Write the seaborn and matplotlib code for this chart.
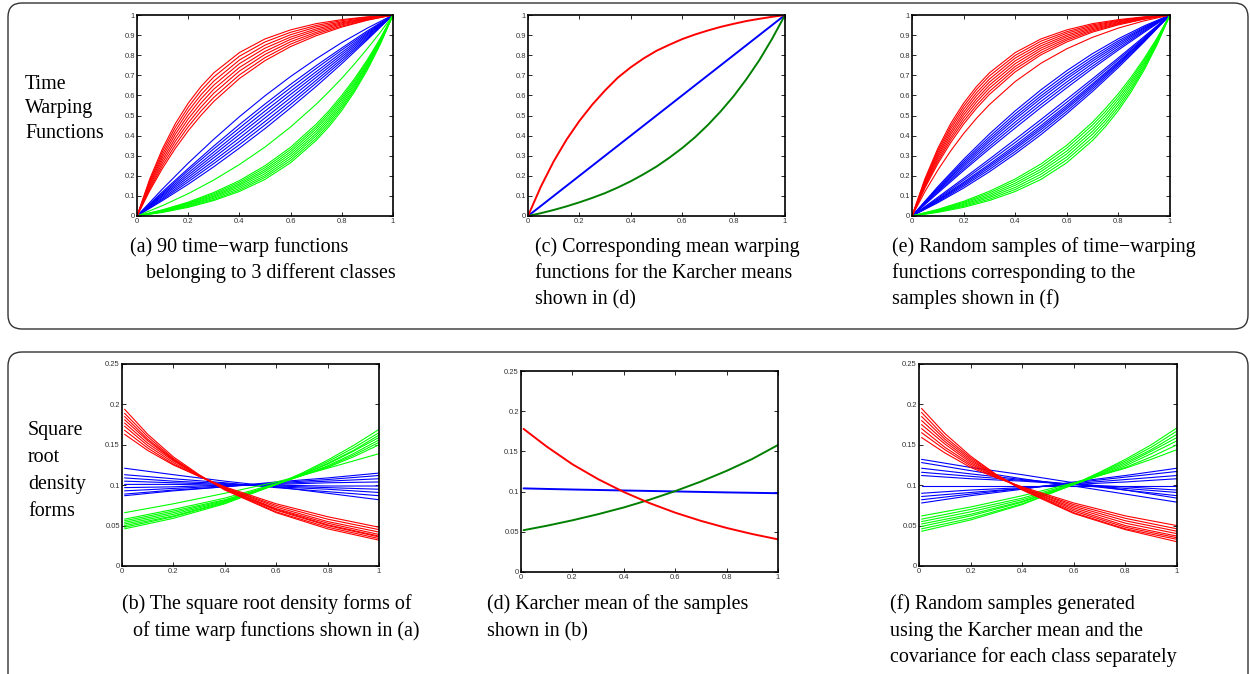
import pandas as pd
import matplotlib.pyplot as plt
import seaborn as sns
from matplotlib.patches import FancyBboxPatch

sns.set_theme(style="ticks")
plt.rcParams["font.family"] = ["Liberation Sans", "DejaVu Sans"]
plt.rcParams["text.color"] = "black"

# x grids (finer where the curves bend most)
t_grid = [0, 0.1, 0.2, 0.3, 0.4, 0.5, 0.6, 0.7, 0.8, 0.9, 1.0]
t_grid_red = [0, 0.05, 0.1, 0.15, 0.2, 0.25, 0.3, 0.4, 0.5, 0.6, 0.7, 0.8, 0.9, 1.0]
t_grid_green = [0, 0.1, 0.2, 0.3, 0.4, 0.5, 0.6, 0.7, 0.75, 0.8, 0.85, 0.9, 0.95, 1.0]
t_grid_fine = [0, .05, .1, .15, .2, .25, .3, .35, .4, .45, .5,
               .55, .6, .65, .7, .75, .8, .85, .9, .95, 1]
s_grid = [0.01, 0.2, 0.4, 0.6, 0.8, 1.0]
s_grid_red = [0.01, 0.1, 0.2, 0.3, 0.4, 0.6, 0.8, 1.0]
s_grid_green = [0.01, 0.2, 0.4, 0.6, 0.7, 0.8, 0.9, 1.0]
s_grid_fine = [0.01, 0.1, 0.2, 0.3, 0.4, 0.5, 0.6, 0.7, 0.8, 0.9, 1.0]

x_ticks = [0, 0.2, 0.4, 0.6, 0.8, 1]
x_labels = ["0", "0.2", "0.4", "0.6", "0.8", "1"]
warp_ticks = [0, 0.1, 0.2, 0.3, 0.4, 0.5, 0.6, 0.7, 0.8, 0.9, 1]
warp_labels = ["0", "0.1", "0.2", "0.3", "0.4", "0.5", "0.6", "0.7", "0.8", "0.9", "1"]
srd_ticks = [0, 0.05, 0.1, 0.15, 0.2, 0.25]
srd_labels = ["0", "0.05", "0.1", "0.15", "0.2", "0.25"]

# (a) 90 time-warp functions
red_a = [
    [0, .126, .238, .337, .424, .501, .570, .684, .773, .843, .897, .940, .974, 1],
    [0, .134, .252, .354, .444, .522, .590, .702, .788, .855, .906, .945, .976, 1],
    [0, .143, .266, .372, .463, .542, .611, .721, .804, .867, .914, .951, .979, 1],
    [0, .151, .280, .389, .483, .562, .631, .739, .819, .879, .923, .956, .981, 1],
    [0, .160, .294, .407, .502, .583, .651, .758, .835, .890, .931, .961, .984, 1],
    [0, .168, .308, .424, .522, .603, .671, .776, .850, .902, .940, .966, .986, 1],
    [0, .176, .322, .442, .541, .624, .692, .795, .866, .914, .948, .972, .989, 1],
    [0, .185, .336, .460, .561, .644, .712, .813, .881, .926, .957, .977, .991, 1],
]
blue_a = [
    [0, .135, .263, .382, .494, .598, .694, .782, .863, .935, 1],
    [0, .121, .236, .348, .455, .557, .655, .748, .836, .921, 1],
    [0, .114, .226, .334, .438, .540, .638, .734, .826, .914, 1],
    [0, .108, .214, .318, .421, .522, .621, .718, .814, .908, 1],
    [0, .102, .203, .304, .405, .505, .605, .704, .803, .902, 1],
    [0, .096, .192, .290, .388, .488, .588, .690, .792, .896, 1],
    [0, .089, .181, .275, .371, .470, .571, .675, .781, .889, 1],
    [0, .083, .170, .261, .355, .453, .555, .661, .770, .883, 1],
    [0, .077, .158, .245, .338, .435, .538, .645, .758, .877, 1],
]
green_a = [
    [0, .018, .043, .077, .122, .182, .265, .376, .445, .525, .619, .727, .853, 1],
    [0, .020, .047, .082, .129, .192, .276, .387, .456, .536, .628, .735, .857, 1],
    [0, .022, .051, .088, .137, .201, .287, .399, .468, .546, .637, .742, .862, 1],
    [0, .024, .054, .094, .145, .211, .298, .410, .479, .557, .647, .749, .866, 1],
    [0, .025, .058, .099, .153, .221, .309, .422, .490, .568, .656, .756, .870, 1],
    [0, .027, .062, .105, .160, .230, .320, .434, .502, .579, .665, .763, .874, 1],
    [0, .029, .065, .111, .168, .240, .331, .445, .513, .589, .675, .771, .879, 1],
    [0, .031, .069, .117, .176, .250, .342, .457, .524, .600, .684, .778, .883, 1],
    [0, .052, .111, .179, .256, .343, .443, .556, .619, .685, .757, .833, .913, 1],
]

# (c) mean warping functions
mean_red_c = [0, .146, .272, .380, .473, .554, .625, .689, .740, .784, .822,
              .852, .880, .903, .923, .941, .956, .970, .981, .991, 1]
mean_blue_c = [0, .1, .2, .3, .4, .5, .6, .7, .8, .9, 1]
mean_green_c = [0, .014, .030, .048, .068, .090, .114, .142, .173, .208, .246,
                .290, .338, .392, .453, .521, .596, .681, .775, .882, 1]

# (e) random samples of warping functions
red_e = [
    [0, .139, .260, .365, .457, .536, .605, .717, .802, .866, .915, .951, .979, 1],
    [0, .146, .271, .379, .472, .551, .620, .731, .813, .875, .921, .955, .981, 1],
    [0, .152, .282, .392, .487, .567, .636, .744, .825, .883, .927, .958, .982, 1],
    [0, .159, .293, .406, .502, .582, .651, .758, .836, .892, .933, .962, .984, 1],
    [0, .165, .303, .419, .516, .598, .666, .772, .847, .900, .939, .966, .986, 1],
    [0, .172, .314, .433, .531, .613, .681, .786, .858, .909, .945, .970, .988, 1],
    [0, .178, .325, .446, .546, .629, .697, .799, .870, .917, .951, .973, .989, 1],
    [0, .185, .336, .460, .561, .644, .712, .813, .881, .926, .957, .977, .991, 1],
    [0, .121, .228, .324, .410, .486, .554, .669, .760, .832, .889, .935, .971, 1],
]
blue_e = [
    [0, .146, .282, .408, .523, .628, .723, .808, .882, .946, 1],
    [0, .140, .272, .394, .508, .612, .708, .794, .872, .940, 1],
    [0, .135, .263, .382, .494, .598, .694, .782, .863, .935, 1],
    [0, .131, .254, .371, .482, .585, .682, .771, .854, .931, 1],
    [0, .125, .245, .359, .467, .570, .667, .759, .845, .925, 1],
    [0, .120, .235, .346, .453, .555, .653, .746, .835, .920, 1],
    [0, .114, .226, .334, .438, .540, .638, .734, .826, .914, 1],
    [0, .093, .187, .283, .381, .480, .581, .683, .787, .893, 1],
    [0, .087, .178, .271, .366, .465, .566, .671, .778, .887, 1],
    [0, .082, .168, .258, .352, .450, .552, .658, .768, .882, 1],
    [0, .078, .162, .250, .342, .440, .542, .650, .762, .878, 1],
    [0, .075, .155, .241, .333, .430, .533, .641, .755, .875, 1],
    [0, .070, .148, .231, .321, .418, .521, .631, .748, .870, 1],
    [0, .066, .139, .220, .309, .405, .509, .620, .739, .866, 1],
]
green_e = [
    [0, .018, .043, .077, .122, .182, .265, .376, .445, .525, .619, .727, .853, 1],
    [0, .021, .048, .084, .132, .195, .280, .391, .460, .539, .631, .737, .859, 1],
    [0, .023, .053, .092, .142, .208, .294, .407, .475, .553, .643, .746, .864, 1],
    [0, .025, .058, .099, .153, .221, .309, .422, .490, .567, .656, .756, .870, 1],
    [0, .028, .063, .107, .163, .233, .323, .437, .505, .581, .668, .765, .875, 1],
    [0, .030, .068, .115, .174, .246, .338, .453, .520, .595, .680, .775, .881, 1],
    [0, .033, .073, .123, .184, .259, .352, .467, .535, .609, .692, .784, .886, 1],
]

# (b) square root density forms
red_b = [
    [.194, .163, .135, .113, .094, .066, .046, .032],
    [.189, .160, .133, .112, .095, .067, .048, .034],
    [.185, .157, .132, .112, .095, .069, .050, .036],
    [.181, .155, .131, .112, .096, .070, .051, .037],
    [.177, .152, .130, .112, .096, .071, .053, .039],
    [.173, .149, .128, .111, .097, .073, .055, .042],
    [.168, .146, .126, .111, .097, .075, .058, .045],
    [.163, .143, .125, .111, .098, .077, .061, .048],
]
blue_b = [
    [.121, .113, .105, .098, .090, .082],
    [.113, .108, .103, .097, .092, .087],
    [.109, .105, .102, .098, .095, .091],
    [.105, .103, .101, .099, .097, .095],
    [.101, .101, .100, .100, .099, .099],
    [.097, .098, .100, .101, .103, .104],
    [.093, .096, .099, .102, .105, .108],
    [.089, .094, .098, .103, .107, .112],
    [.087, .093, .098, .104, .109, .115],
]
green_b = [
    [.046, .059, .077, .101, .115, .131, .149, .169],
    [.048, .061, .078, .101, .114, .129, .146, .165],
    [.050, .062, .079, .101, .113, .127, .143, .162],
    [.052, .064, .080, .101, .113, .126, .142, .159],
    [.054, .066, .081, .101, .112, .124, .139, .156],
    [.056, .068, .082, .101, .112, .123, .137, .153],
    [.058, .070, .084, .102, .112, .122, .135, .150],
    [.066, .077, .090, .104, .112, .121, .130, .139],
]

# (d) Karcher means
mean_red_d = [.178, .156, .134, .1155, .0995, .0857, .0738, .0636, .0548, .0472, .0406]
mean_blue_d = [.104, .1033, .1026, .102, .1014, .1008, .1002, .0996, .099, .0985, .098]
mean_green_d = [.052, .0575, .0643, .0719, .0803, .0899, .1006, .1125, .1258, .1406, .158]

# (f) random samples of square root density forms
red_f = [
    [.195, .164, .136, .113, .094, .065, .045, .030],
    [.190, .160, .134, .113, .095, .066, .046, .033],
    [.185, .157, .132, .112, .095, .068, .048, .035],
    [.180, .154, .130, .112, .096, .070, .050, .037],
    [.175, .151, .128, .111, .096, .072, .053, .040],
    [.170, .147, .126, .111, .097, .074, .056, .043],
    [.165, .144, .124, .110, .097, .076, .059, .046],
    [.159, .140, .122, .109, .098, .078, .062, .050],
]
blue_f = [
    [.132, .122, .113, .103, .094, .084],
    [.128, .118, .108, .099, .089, .079],
    [.121, .114, .107, .101, .094, .087],
    [.116, .111, .106, .101, .096, .091],
    [.112, .108, .105, .101, .098, .094],
    [.099, .099, .099, .099, .099, .099],
    [.090, .094, .097, .101, .104, .108],
    [.086, .091, .096, .102, .107, .112],
    [.082, .089, .096, .103, .110, .117],
    [.078, .087, .095, .104, .112, .121],
]
green_f = [
    [.043, .057, .076, .101, .116, .132, .150, .171],
    [.046, .059, .077, .101, .115, .130, .147, .167],
    [.049, .062, .079, .101, .114, .128, .144, .163],
    [.052, .064, .080, .101, .113, .126, .142, .159],
    [.055, .067, .082, .101, .112, .124, .139, .155],
    [.058, .070, .084, .102, .112, .122, .135, .150],
    [.062, .073, .087, .103, .112, .121, .132, .144],
]

bright = {"blue": "#0000ff", "green": "#00ff00", "red": "#ff0000"}
means = {"blue": "#0000ff", "green": "#008000", "red": "#ff0000"}
order = ["blue", "green", "red"]

W, H = 1250, 674
fig = plt.figure(figsize=(W / 100, H / 100), dpi=100)


def long_table(groups):
    rows = []
    for cls, (grid, curves) in groups.items():
        for k, ys in enumerate(curves):
            for x, y in zip(grid, ys):
                rows.append((cls, cls + str(k), x, y))
    return pd.DataFrame(rows, columns=["cls", "curve", "x", "y"])


def panel(px, groups, palette, lw, yticks, ylabels):
    # px = left, top, right, bottom in pixels
    l, t, r, b = px
    ax = fig.add_axes([l / W, 1 - b / H, (r - l) / W, (b - t) / H])
    df = long_table(groups)
    sns.lineplot(data=df, x="x", y="y", hue="cls", units="curve", estimator=None,
                 hue_order=order, palette=palette, linewidth=lw, legend=False,
                 sort=False, ax=ax)
    ax.set_xlim(0, 1)
    ax.set_ylim(yticks[0], yticks[-1])
    ax.set_xticks(x_ticks)
    ax.set_xticklabels(x_labels)
    ax.set_yticks(yticks)
    ax.set_yticklabels(ylabels)
    ax.set_xlabel("")
    ax.set_ylabel("")
    ax.tick_params(direction="in", top=True, right=True, length=3, width=0.7,
                   labelsize=5.5, pad=1.5, labelcolor="#333333")
    for sp in ax.spines.values():
        sp.set_linewidth(1.2)
        sp.set_color("black")
    return ax


panel((137, 15, 393, 216),
      {"blue": (t_grid, blue_a), "green": (t_grid_green, green_a), "red": (t_grid_red, red_a)},
      bright, 0.8, warp_ticks, warp_labels)
panel((528, 15, 785, 216),
      {"blue": (t_grid, [mean_blue_c]), "green": (t_grid_fine, [mean_green_c]),
       "red": (t_grid_fine, [mean_red_c])},
      means, 1.4, warp_ticks, warp_labels)
panel((912, 15, 1170, 216),
      {"blue": (t_grid, blue_e), "green": (t_grid_green, green_e), "red": (t_grid_red, red_e)},
      bright, 0.8, warp_ticks, warp_labels)
panel((122, 364, 379, 566),
      {"blue": (s_grid, blue_b), "green": (s_grid_green, green_b), "red": (s_grid_red, red_b)},
      bright, 0.8, srd_ticks, srd_labels)
panel((521, 371, 778, 572),
      {"blue": (s_grid_fine, [mean_blue_d]), "green": (s_grid_fine, [mean_green_d]),
       "red": (s_grid_fine, [mean_red_d])},
      means, 1.4, srd_ticks, srd_labels)
panel((919, 364, 1177, 566),
      {"blue": (s_grid, blue_f), "green": (s_grid_green, green_f), "red": (s_grid_red, red_f)},
      bright, 0.8, srd_ticks, srd_labels)

# rounded frames (inches, so corners stay round)
for top, bottom in [(3, 329), (352, 690)]:
    box = FancyBboxPatch((0.08, (H - bottom) / 100), 12.40, (bottom - top) / 100,
                         boxstyle="round,pad=0,rounding_size=0.14",
                         transform=fig.dpi_scale_trans, fill=False,
                         edgecolor="#333333", linewidth=1.0)
    fig.patches.append(box)

serif = ["Liberation Serif", "DejaVu Serif"]


def label(x, y, s):
    fig.text(x / W, 1 - y / H, s, fontsize=14.4, family=serif, color="black",
             ha="left", va="baseline")


for s, y in [("Time", 89), ("Warping", 113), ("Functions", 138)]:
    label(25, y, s)
for s, y in [("Square", 435), ("root", 462), ("density", 489), ("forms", 516)]:
    label(28, y, s)

captions = [
    [(130, 252, "(a) 90 time\u2212warp functions"), (146, 278, "belonging to 3 different classes")],
    [(535, 252, "(c) Corresponding mean warping"), (535, 278, "functions for the Karcher means"),
     (535, 304, "shown in (d)")],
    [(892, 252, "(e) Random samples of time\u2212warping"), (892, 278, "functions corresponding to the"),
     (892, 304, "samples shown in (f)")],
    [(122, 609, "(b) The square root density forms of"), (133, 636, "of time warp functions shown in (a)")],
    [(487, 609, "(d) Karcher mean of the samples"), (487, 636, "shown in (b)")],
    [(890, 609, "(f) Random samples generated"), (890, 636, "using the Karcher mean and the"),
     (890, 662, "covariance for each class separately")],
]
for lines in captions:
    for x, y, s in lines:
        label(x, y, s)

fig.savefig("out.png", dpi=100)
